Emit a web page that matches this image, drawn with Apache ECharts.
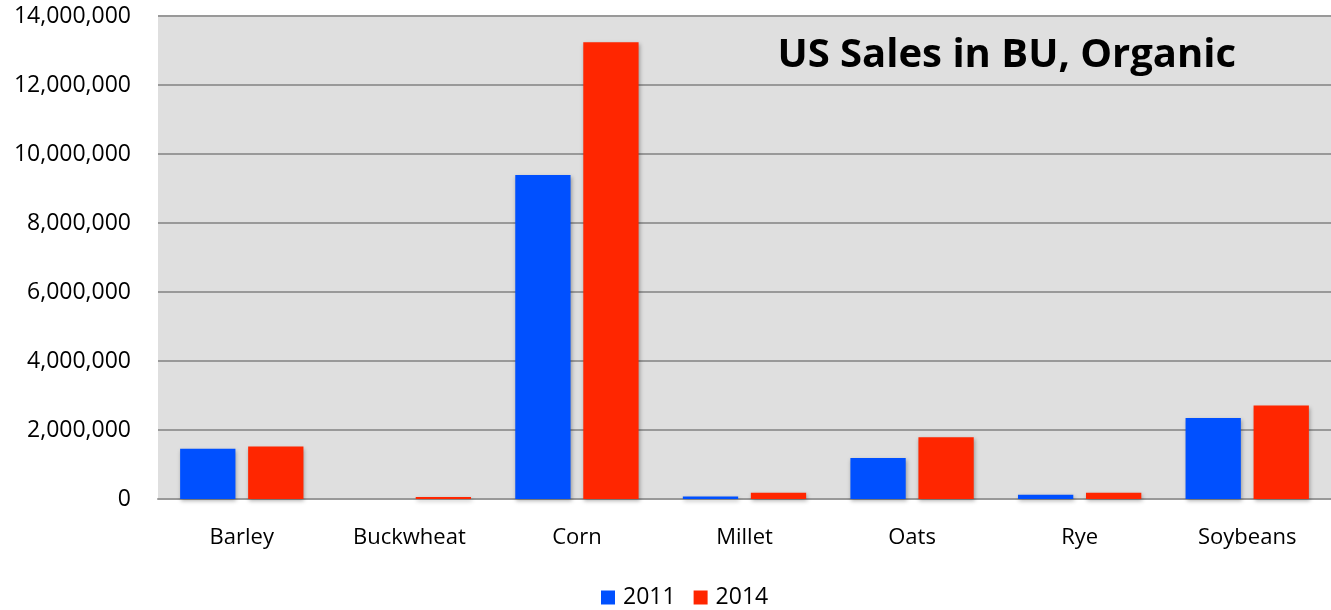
<!DOCTYPE html>
<html>
<head>
<meta charset="utf-8">
<script src="https://cdn.jsdelivr.net/npm/echarts@6/dist/echarts.min.js"></script>
<style>html,body{margin:0;padding:0;background:#fff}#c{width:1331px;height:610px}</style>
</head>
<body>
<div id="c"></div>
<script>
const categories = ['Barley', 'Buckwheat', 'Corn', 'Millet', 'Oats', 'Rye', 'Soybeans'];
const sales2011 = [1460000, 0, 9390000, 70000, 1190000, 120000, 2350000];
const sales2014 = [1520000, 60000, 13240000, 180000, 1790000, 180000, 2710000];
const seriesNames = ['2011', '2014'];
const titleText = 'US Sales in BU, Organic';

const font = '"Open Sans", "Liberation Sans", sans-serif';
const chart = echarts.init(document.getElementById('c'), null, {renderer: 'canvas'});
chart.setOption({
  animation: false,
  title: {
    text: titleText, right: 90, top: 31,
    textStyle: {fontFamily: font, fontWeight: 'bold', fontSize: 40, color: '#000'}
  },
  legend: {
    data: seriesNames, top: 581, left: 596,
    itemWidth: 14, itemHeight: 14, itemGap: 18, icon: 'rect',
    textStyle: {fontFamily: font, fontSize: 23, color: '#000', padding: [0, 0, 0, 3]}
  },
  grid: {left: 158, right: 0, top: 16, bottom: 111, backgroundColor: '#dfdfdf', show: true, borderWidth: 0},
  xAxis: {
    type: 'category', data: categories,
    axisLine: {show: true, lineStyle: {color: '#999', width: 2}},
    axisTick: {show: false},
    axisLabel: {fontFamily: font, fontSize: 22, color: '#000', margin: 28}
  },
  yAxis: {
    type: 'value', min: 0, max: 14000000, interval: 2000000,
    axisLine: {show: false}, axisTick: {show: false},
    splitLine: {lineStyle: {color: '#999', width: 2}},
    axisLabel: {
      fontFamily: font, fontSize: 23, color: '#000', margin: 27,
      formatter: v => v.toLocaleString('en-US')
    }
  },
  series: [
    {name: seriesNames[0], type: 'bar', data: sales2011, barWidth: '33%', barGap: '23%',
     itemStyle: {color: '#0050ff', shadowColor: 'rgba(0,0,0,0.3)', shadowBlur: 4, shadowOffsetY: 2, shadowOffsetX: 1}},
    {name: seriesNames[1], type: 'bar', data: sales2014, barWidth: '33%',
     itemStyle: {color: '#ff2600', shadowColor: 'rgba(0,0,0,0.3)', shadowBlur: 4, shadowOffsetY: 2, shadowOffsetX: 1}}
  ]
});
</script>
</body>
</html>
